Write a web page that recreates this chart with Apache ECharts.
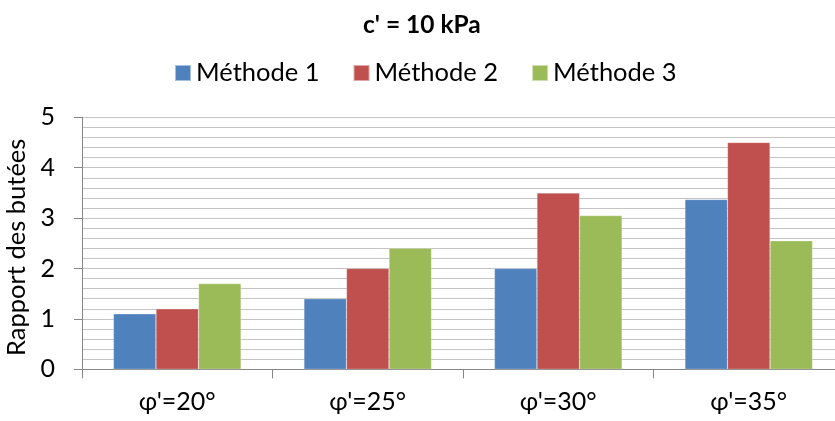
<!DOCTYPE html>
<html><head><meta charset="utf-8">
<script src="https://cdn.jsdelivr.net/npm/echarts@6/dist/echarts.min.js"></script>
<style>html,body{margin:0;padding:0;background:#fff;overflow:hidden}#c{width:845px;height:421px}</style>
</head><body><div id="c"></div>
<script>
const categories = ["φ'=20°", "φ'=25°", "φ'=30°", "φ'=35°"];
const seriesNames = ["Méthode 1", "Méthode 2", "Méthode 3"];
const methode1 = [1.1, 1.4, 2.0, 3.37];
const methode2 = [1.2, 2.0, 3.5, 4.5];
const methode3 = [1.7, 2.4, 3.05, 2.55];
const colors = ["#4F81BD", "#C0504D", "#9BBB59"];
const FONT = "Lato, 'Open Sans', sans-serif";

const chart = echarts.init(document.getElementById('c'), null, {renderer: 'canvas'});
const data = [methode1, methode2, methode3];
chart.setOption({
  animation: false,
  color: colors,
  title: {text: "c' = 10 kPa", left: 358, top: 8,
    textStyle: {fontFamily: FONT, fontWeight: 'bold', fontSize: 24.5, color: '#000'}},
  legend: {top: 55, left: 169, itemWidth: 16, itemHeight: 16, itemGap: 33,
    icon: 'rect', textStyle: {fontFamily: FONT, fontSize: 25.5, color: '#000'},
    data: seriesNames},
  grid: {left: 82, width: 762, top: 117.3, bottom: 51.7, containLabel: false, outerBoundsMode: 'none'},
  xAxis: {type: 'category', data: categories,
    axisLine: {lineStyle: {color: '#868686', width: 1}},
    axisTick: {show: true, length: 9, lineStyle: {color: '#868686'}},
    axisLabel: {fontFamily: FONT, fontSize: 25, color: '#000', margin: 20}},
  yAxis: {type: 'value', min: 0, max: 5, interval: 1,
    name: 'Rapport des butées', nameLocation: 'middle', nameGap: 49, nameRotate: 90,
    nameTextStyle: {fontFamily: FONT, fontSize: 25.5, color: '#000', padding: [0, 8, 0, 0]},
    axisLine: {show: true, lineStyle: {color: '#868686'}},
    axisTick: {show: true, length: 8, lineStyle: {color: '#868686'}},
    axisLabel: {fontFamily: FONT, fontSize: 25, color: '#000', margin: 27},
    splitLine: {show: true, lineStyle: {color: '#c4c4c4'}},
    minorTick: {show: false, splitNumber: 5},
    minorSplitLine: {show: true, lineStyle: {color: '#c4c4c4'}}},
  series: seriesNames.map((n, i) => ({
    name: n, type: 'bar', data: data[i], barGap: '0%', barCategoryGap: '33%',
    itemStyle: {borderColor: 'rgba(255,255,255,0.5)', borderWidth: 0.5}
  }))
});
</script></body></html>
